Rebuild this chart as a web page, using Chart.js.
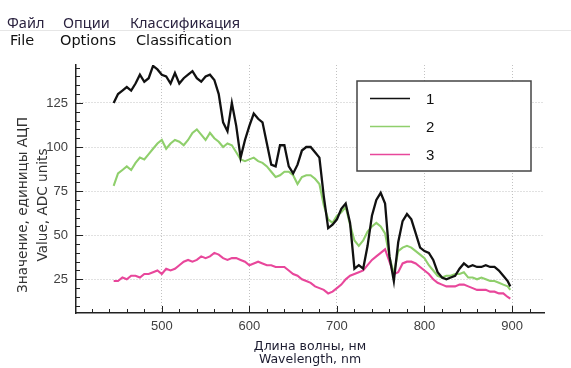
<!DOCTYPE html>
<html>
<head>
<meta charset="utf-8">
<script src="https://cdn.jsdelivr.net/npm/chart.js@4.4.1/dist/chart.umd.min.js"></script>
<style>
    html, body { margin: 0; padding: 0; background: #fff; }
    body { width: 571px; height: 368px; position: relative; overflow: hidden; }
    #chartCanvas { position: absolute; left: 0; top: 0; }
    .menu span { position: absolute; white-space: nowrap; line-height: 1; }
    .menu-ru span { top: 12px; font: 14.5px "Noto Sans", sans-serif; color: #2b2340; }
    .menu-en span { top: 32px; font: 14.5px "DejaVu Sans", sans-serif; color: #111; }
    #menuLine { position: absolute; left: 0; top: 30px; width: 571px; height: 1px; background: #e6e6e6; }
</style>
</head>
<body>
<canvas id="chartCanvas" width="571" height="368"></canvas>
<div class="menu menu-ru">
    <span style="left:7px">Файл</span>
    <span style="left:63px">Опции</span>
    <span style="left:130px">Классификация</span>
</div>
<div id="menuLine"></div>
<div class="menu menu-en">
    <span style="left:10px">File</span>
    <span style="left:60px">Options</span>
    <span style="left:136px">Classification</span>
</div>
<script>
// wavelength, nm
const wavelengths = [
    445, 450, 455, 460, 465, 470, 475, 480, 485, 490,
    495, 500, 505, 510, 515, 520, 525, 530, 535, 540,
    545, 550, 555, 560, 565, 570, 575, 580, 585, 590,
    595, 600, 605, 610, 615, 620, 625, 630, 635, 640,
    645, 650, 655, 660, 665, 670, 675, 680, 685, 690,
    695, 700, 705, 710, 715, 720, 725, 730, 735, 740,
    745, 750, 755, 760, 765, 770, 775, 780, 785, 790,
    795, 800, 805, 810, 815, 820, 825, 830, 835, 840,
    845, 850, 855, 860, 865, 870, 875, 880, 885, 890,
    895, 898
];

const series1 = [
    125, 130, 132, 134, 132, 136, 141, 137, 139, 146,
    144, 141, 140, 136, 142, 136, 139, 141, 143, 139,
    137, 140, 141, 138, 130, 114, 109, 125, 112, 94,
    104, 112, 119, 116, 114, 102, 90, 89, 101, 101,
    89, 85, 90, 98, 100, 100, 97, 94, 72, 54,
    56, 59, 65, 68, 57, 31, 33, 31, 44, 61,
    70, 74, 68, 38, 24, 46, 58, 62, 59, 51,
    43, 41, 40, 36, 29, 26, 25, 26, 27, 31,
    34, 32, 33, 32, 32, 33, 32, 32, 30, 27,
    24, 21
];

const series2 = [
    78, 85, 87, 89, 87, 91, 94, 93, 96, 99,
    102, 104, 99, 102, 104, 103, 101, 104, 108, 110,
    107, 104, 108, 105, 103, 100, 102, 101, 97, 93,
    92, 93, 94, 92, 91, 89, 86, 83, 84, 86,
    86, 84, 79, 83, 84, 84, 82, 79, 67, 59,
    57, 61, 63, 66, 56, 47, 44, 47, 52, 55,
    57, 55, 51, 38, 28, 41, 43, 44, 43, 41,
    39, 37, 33, 30, 27, 26, 27, 27, 28, 28,
    29, 26, 26, 25, 26, 25, 24, 24, 23, 22,
    21, 19
];

const series3 = [
    24, 24, 26, 25, 27, 27, 26, 28, 28, 29,
    30, 28, 31, 30, 31, 33, 35, 36, 35, 36,
    38, 37, 38, 40, 39, 37, 36, 37, 37, 36,
    35, 33, 34, 35, 34, 33, 33, 32, 32, 32,
    30, 28, 27, 25, 24, 23, 21, 20, 19, 17,
    18, 20, 22, 25, 27, 28, 29, 30, 33, 36,
    38, 40, 42, 35, 28, 29, 34, 35, 35, 34,
    32, 30, 28, 25, 23, 22, 21, 21, 21, 22,
    22, 21, 20, 19, 19, 19, 18, 18, 17, 17,
    15, 14
];

const seriesLabels = ['1', '2', '3'];
const seriesColors = ['#111111', '#8fcf6c', '#e8479b'];
const xTickValues = [500, 600, 700, 800, 900];
const yTickValues = [25, 50, 75, 100, 125];
const xTitleLines = ['Длина волны, нм', 'Wavelength, nm'];
const yTitleLines = ['Значение, единицы АЦП', 'Value, ADC units'];

const tickFont = { family: "'Liberation Sans', Arial, sans-serif", size: 13 };

function toPoints(values) {
    return values.map((v, i) => ({ x: wavelengths[i], y: v }));
}

// small inward tick marks, like the original instrument plot
const innerTicks = {
    id: 'innerTicks',
    afterDraw(chart) {
        const { ctx, chartArea } = chart;
        const x = chart.scales.x, y = chart.scales.y;
        ctx.save();
        ctx.strokeStyle = '#222';
        ctx.lineWidth = 1;
        ctx.beginPath();
        for (let v = 420; v <= 920; v += 20) {
            const px = Math.round(x.getPixelForValue(v)) + 0.5;
            const len = v % 100 === 0 ? 7 : 4;
            ctx.moveTo(px, chartArea.bottom);
            ctx.lineTo(px, chartArea.bottom - len);
        }
        for (let v = 10; v <= 145; v += 5) {
            const py = Math.round(y.getPixelForValue(v)) + 0.5;
            const len = v % 25 === 0 ? 7 : 4;
            ctx.moveTo(chartArea.left, py);
            ctx.lineTo(chartArea.left + len, py);
        }
        ctx.stroke();
        ctx.restore();
    }
};

const yTitle = {
    id: 'yTitle',
    afterDraw(chart) {
        const { ctx, chartArea } = chart;
        const cy = (chartArea.top + chartArea.bottom) / 2 + 16;
        ctx.save();
        ctx.fillStyle = '#333';
        ctx.font = "13.6px 'DejaVu Sans', sans-serif";
        ctx.textAlign = 'center';
        ctx.textBaseline = 'middle';
        yTitleLines.forEach((line, i) => {
            ctx.save();
            ctx.translate(23.5 + i * 20, cy);
            ctx.rotate(-Math.PI / 2);
            ctx.fillText(line, 0, 0);
            ctx.restore();
        });
        ctx.restore();
    }
};

const legendBox = {
    id: 'legendBox',
    afterDraw(chart) {
        const { ctx } = chart;
        const left = 357, top = 81, w = 174, h = 90;
        ctx.save();
        ctx.fillStyle = '#fff';
        ctx.fillRect(left, top, w, h);
        ctx.strokeStyle = '#444';
        ctx.lineWidth = 1.5;
        ctx.strokeRect(left, top, w, h);
        ctx.font = "15px 'Liberation Sans', Arial, sans-serif";
        ctx.textBaseline = 'middle';
        chart.data.datasets.forEach((ds, i) => {
            const ly = top + 17.5 + i * 28;
            ctx.strokeStyle = ds.borderColor;
            ctx.lineWidth = 1.5;
            ctx.beginPath();
            ctx.moveTo(left + 13, ly);
            ctx.lineTo(left + 53, ly);
            ctx.stroke();
            ctx.fillStyle = '#111';
            ctx.fillText(ds.label, left + 69, ly + 1);
        });
        ctx.restore();
    }
};

const chart = new Chart(document.getElementById('chartCanvas'), {
    type: 'line',
    data: {
        datasets: [series1, series2, series3].map((s, i) => ({
            label: seriesLabels[i],
            data: toPoints(s),
            borderColor: seriesColors[i],
            borderWidth: i === 0 ? 2.3 : 2.1,
            pointRadius: 0,
            tension: 0,
            fill: false
        }))
    },
    options: {
        responsive: false,
        animation: false,
        devicePixelRatio: 1,
        layout: { padding: { top: 65, right: 27, left: 0, bottom: 0 } },
        plugins: { legend: { display: false }, tooltip: { enabled: false } },
        scales: {
            x: {
                type: 'linear',
                min: 402,
                max: 936.5,
                afterFit(scale) { scale.height = 55; },
                afterBuildTicks(scale) { scale.ticks = xTickValues.map(v => ({ value: v })); },
                ticks: { font: tickFont, color: '#404040', padding: 6, maxRotation: 0, autoSkip: false },
                grid: { color: '#c2c2c2', lineWidth: 1, drawTicks: false },
                border: { color: '#222', width: 1.5, dash: [1, 2] },
                title: {
                    display: true,
                    text: xTitleLines,
                    color: '#1c1c30',
                    font: { family: "'DejaVu Sans', sans-serif", size: 12.5, lineHeight: 1.1 },
                    padding: { top: 0, bottom: 1 }
                }
            },
            y: {
                type: 'linear',
                min: 5.9,
                max: 146.5,
                afterFit(scale) { scale.width = 76; },
                afterBuildTicks(scale) { scale.ticks = yTickValues.map(v => ({ value: v })); },
                ticks: { font: tickFont, color: '#404040', padding: 8 },
                grid: { color: '#c2c2c2', lineWidth: 1, drawTicks: false },
                border: { color: '#222', width: 1.5, dash: [1, 2] }
            }
        }
    },
    plugins: [innerTicks, legendBox, yTitle]
});
</script>
</body>
</html>
